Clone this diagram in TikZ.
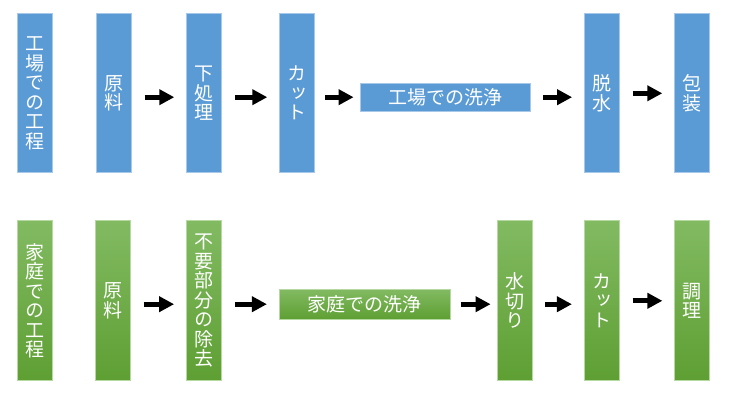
\documentclass[tikz,border=0pt]{standalone}
\usepackage{fontspec}
\newfontfamily\jpfont{Noto Sans CJK JP}
\newfontfamily\jpvfont[RawFeature=+vert]{Noto Sans CJK JP}
\usetikzlibrary{arrows.meta}
\definecolor{factoryblue}{HTML}{5B9BD5}
\definecolor{factoryedge}{HTML}{A8C8EA}
\definecolor{hometop}{HTML}{82BA62}
\definecolor{homebottom}{HTML}{5E9F33}
\definecolor{homeedge}{HTML}{B5D9A0}
\tikzset{>={Triangle[length=15pt,width=15pt]},
    factory/.style={draw=factoryedge, fill=factoryblue, line width=0.8pt},
    home/.style={draw=homeedge, top color=hometop, bottom color=homebottom, line width=0.8pt}}

\begin{document}
\begin{tikzpicture}[x=1pt, y=-1pt,
      tallbox/.style={minimum width=35pt, minimum height=159pt, inner sep=0pt,
        text=white, align=center, font=\jpvfont\fontsize{19}{19.5}\selectfont},
      widebox/.style={minimum width=170pt, minimum height=28pt, inner sep=0pt,
        text=white, font=\jpfont\fontsize{19}{19.5}\selectfont},
      flow/.style={->, line width=5pt, shorten <=13pt, shorten >=12pt},
      flowshort/.style={flow, shorten <=10pt, shorten >=6pt}]
  \useasboundingbox (0,0) rectangle (736,403);
  % Factory process
  \node[factory, tallbox] (fstage) at (35.3, 93.3) {工\\場\\で\\の\\工\\程};
  \node[factory, tallbox] (fraw) at (113.7, 93.3) {原\\料};
  \node[factory, tallbox] (fprep) at (204.2, 93.3) {下\\処\\理};
  \node[factory, tallbox] (fcut) at (297.2, 93.3) {カ\\ッ\\ト};
  \node[factory, widebox] (fwash) at (445, 97.2) {工場での洗浄};
  \node[factory, tallbox] (fdry) at (602, 93.3) {脱\\水};
  \node[factory, tallbox] (fpack) at (692.2, 93.3) {包\\装};
  % Home process
  \node[home, tallbox, minimum height=160pt] (hstage) at (35, 300.8) {家\\庭\\で\\の\\工\\程};
  \node[home, tallbox, minimum height=160pt] (hraw) at (112.8, 300.8) {原\\料};
  \node[home, tallbox, minimum height=160pt] (htrim) at (204, 300.8) {不\\要\\部\\分\\の\\除\\去};
  \node[home, widebox, minimum width=171pt, minimum height=29.7pt] (hwash) at (364.8, 304.2) {家庭での洗浄};
  \node[home, tallbox, minimum height=160pt] (hdrain) at (514.5, 300.8) {水\\切\\り};
  \node[home, tallbox, minimum height=160pt] (hcut) at (601.8, 300.8) {カ\\ッ\\ト};
  \node[home, tallbox, minimum height=160pt] (hcook) at (692.3, 300.8) {調\\理};
  % Arrows, factory
  \draw[flow] (fraw.east|-fwash) -- (fprep.west|-fwash);
  \draw[flow] (fprep.east|-fwash) -- (fcut.west|-fwash);
  \draw[flowshort] (fcut.east|-fwash) -- (fwash.west);
  \draw[flow] (fwash.east) -- (fdry.west|-fwash);
  \draw[flow] (fdry) -- (fpack);
  % Arrows, home
  \draw[flow] (hraw.east|-hwash) -- (htrim.west|-hwash);
  \draw[flow] (htrim.east|-hwash) -- (hwash.west);
  \draw[flowshort] (hwash.east) -- (hdrain.west|-hwash);
  \draw[flow] (hdrain.east|-hwash) -- (hcut.west|-hwash);
  \draw[flow] (hcut) -- (hcook);
\end{tikzpicture}
\end{document}
